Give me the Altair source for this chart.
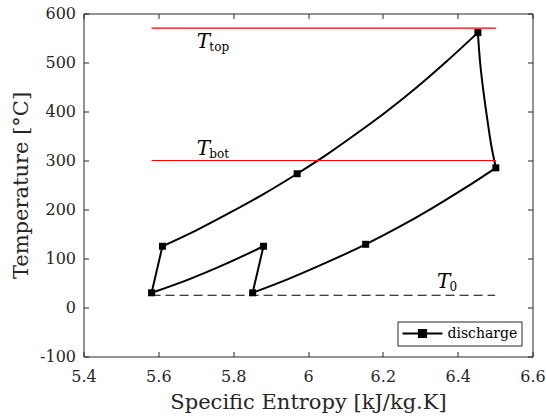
import altair as alt
import pandas as pd

# ---- data ----
# discharge cycle, split into its process curves (entropy kJ/kg.K, temperature degC)
cycle_seg = [1, 1,
             2, 2, 2, 2, 2, 2, 2, 2, 2, 2, 2,
             3, 3, 3, 3, 3, 3,
             4, 4, 4, 4, 4, 4, 4, 4,
             5, 5,
             6, 6, 6, 6]
cycle_s = [5.582, 5.611,
           5.611, 5.70, 5.79, 5.88, 5.971, 6.05, 6.13, 6.21, 6.29, 6.37, 6.454,
           6.454, 6.460, 6.469, 6.480, 6.490, 6.502,
           6.502, 6.42, 6.33, 6.24, 6.154, 6.05, 5.95, 5.852,
           5.852, 5.881,
           5.881, 5.78, 5.68, 5.582]
cycle_T = [30, 125,
           125, 157, 193, 231, 273, 312, 355, 400, 449, 502, 561,
           561, 500, 440, 380, 330, 285,
           285, 244, 202, 163, 129, 92, 59, 30,
           30, 125,
           125, 89, 57, 30]
# state points (markers)
state_s = [5.582, 5.611, 5.971, 6.454, 6.502, 6.154, 5.852, 5.881]
state_T = [30, 125, 273, 561, 285, 129, 30, 125]

# reference temperature lines
ref_T = [570, 300]
ref_s0 = [5.582, 5.582]
ref_s1 = [6.502, 6.502]
t0_T = [25]
t0_s0 = [5.582]
t0_s1 = [6.50]

# annotation labels T_top, T_bot, T_0
lab_main = ["T", "T", "T"]
lab_sub = ["top", "bot", "0"]
lab_s = [5.703, 5.703, 6.345]
lab_T = [530, 311, 40]

xticks = [5.4, 5.6, 5.8, 6.0, 6.2, 6.4, 6.6]
yticks = [-100, 0, 100, 200, 300, 400, 500, 600]

FONT = "DejaVu Serif"
AX = "#262626"
W, H = 449, 343

cycle_df = pd.DataFrame({"s": cycle_s, "T": cycle_T, "seg": cycle_seg,
                         "idx": list(range(len(cycle_s))),
                         "series": ["discharge"] * len(cycle_s)})
state_df = pd.DataFrame({"s": state_s, "T": state_T})
ref_df = pd.DataFrame({"T": ref_T, "s0": ref_s0, "s1": ref_s1})
t0_df = pd.DataFrame({"T": t0_T, "s0": t0_s0, "s1": t0_s1})
lab_df = pd.DataFrame({"s": lab_s, "T": lab_T, "main": lab_main, "sub": lab_sub})


def xs():
    return alt.Scale(domain=[5.4, 6.6], nice=False, zero=False)


def ys():
    return alt.Scale(domain=[-100, 600], nice=False, zero=False)


minus_fix = "replace(datum.label, '\u2212', '-')"

x_lab_axis = alt.Axis(
    orient="bottom", values=xticks, format="~g", labelExpr=minus_fix,
    ticks=False, tickSize=0, domain=False, grid=False,
    labelFont=FONT, labelFontSize=16, labelColor=AX, labelPadding=25,
    labelBaseline="alphabetic", labelFlush=False, labelOverlap=False,
    title="Specific Entropy [kJ/kg.K]", titleFont=FONT, titleFontSize=21,
    titleFontWeight="normal", titleColor=AX, titleX=W / 2, titleY=52,
    titleBaseline="alphabetic", titleAlign="center")

y_lab_axis = alt.Axis(
    orient="left", values=yticks, format="d", labelExpr=minus_fix,
    ticks=False, tickSize=0, domain=False, grid=False,
    labelFont=FONT, labelFontSize=16, labelColor=AX, labelPadding=8,
    labelBaseline="middle", labelAlign="right", labelOverlap=False,
    title="Temperature [\u00b0C]", titleFont=FONT, titleFontSize=21,
    titleFontWeight="normal", titleColor=AX, titleX=-56.5, titleY=H / 2,
    titleAngle=270, titleBaseline="alphabetic", titleAlign="center")


def tick_axis(orient, offset, values):
    return alt.Axis(orient=orient, offset=offset, values=values, labels=False,
                    domain=False, grid=False, ticks=True, tickSize=5,
                    tickColor=AX, tickWidth=1, title=None)


legend = alt.Legend(
    title=None, orient="bottom-right", offset=11, padding=4,
    strokeColor=AX, fillColor="white", cornerRadius=0,
    symbolType="M-1,0L1,0M-0.18,-0.18L0.18,-0.18L0.18,0.18L-0.18,0.18Z",
    symbolSize=1600, symbolStrokeWidth=2, symbolFillColor="black",
    symbolStrokeColor="black", clipHeight=16,
    labelFont=FONT, labelFontSize=14, labelColor="black", labelOffset=4)

line = alt.Chart(cycle_df).mark_line(strokeWidth=2, strokeJoin="round",
                                     strokeCap="round",
                                     interpolate="catmull-rom").encode(
    x=alt.X("s:Q", scale=xs(), axis=x_lab_axis),
    y=alt.Y("T:Q", scale=ys(), axis=y_lab_axis),
    order=alt.Order("idx:Q"),
    detail="seg:N",
    color=alt.Color("series:N", scale=alt.Scale(range=["black"]), legend=legend),
)

pts = alt.Chart(state_df).mark_point(shape="square", filled=True, size=49,
                                      color="black", opacity=1).encode(
    x=alt.X("s:Q", scale=xs(), axis=tick_axis("top", -H, xticks)),
    y=alt.Y("T:Q", scale=ys(), axis=tick_axis("right", -W, yticks)),
)

reds = alt.Chart(ref_df).mark_rule(color="#ff0000", strokeWidth=1.2).encode(
    x=alt.X("s0:Q", scale=xs(), axis=tick_axis("bottom", -H, xticks)),
    x2="s1:Q",
    y=alt.Y("T:Q", scale=ys(), axis=tick_axis("left", -W, yticks)),
)

t0 = alt.Chart(t0_df).mark_rule(color="black", strokeWidth=1.2,
                                strokeDash=[9, 5]).encode(
    x=alt.X("s0:Q", scale=xs(), axis=None),
    x2="s1:Q",
    y=alt.Y("T:Q", scale=ys(), axis=None),
)

tmain = alt.Chart(lab_df).mark_text(font=FONT, fontSize=20, fontStyle="italic",
                                    align="left", baseline="alphabetic",
                                    color="black").encode(
    x=alt.X("s:Q", scale=xs(), axis=None),
    y=alt.Y("T:Q", scale=ys(), axis=None),
    text="main:N",
)

tsub = alt.Chart(lab_df).mark_text(font=FONT, fontSize=12, align="left",
                                   baseline="alphabetic", dx=12.5, dy=3,
                                   color="black").encode(
    x=alt.X("s:Q", scale=xs(), axis=None),
    y=alt.Y("T:Q", scale=ys(), axis=None),
    text="sub:N",
)

chart = alt.layer(line, pts, reds, t0, tmain, tsub).resolve_axis(
    x="independent", y="independent"
).properties(
    width=W, height=H,
    autosize=alt.AutoSizeParams(type="none"),
    padding={"left": 83.5, "top": 13.5, "right": 13.5, "bottom": 59.5},
    background="white",
).configure_view(stroke=AX, strokeWidth=1)

chart.save("out.html", embed_options={"renderer": "svg", "actions": False})
